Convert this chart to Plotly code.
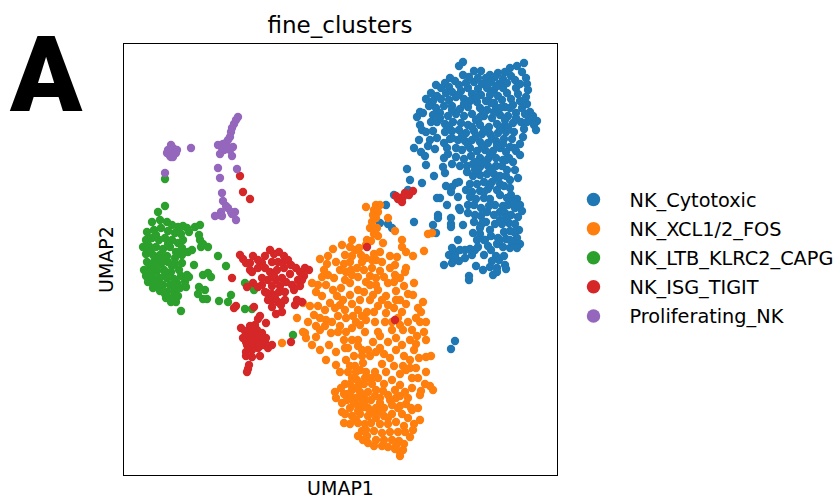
import plotly.graph_objects as go

categories = ["NK_Cytotoxic", "NK_XCL1/2_FOS", "NK_LTB_KLRC2_CAPG", "NK_ISG_TIGIT", "Proliferating_NK"]
colors = ["#1f77b4", "#ff7f0e", "#2ca02c", "#d62728", "#9467bd"]

cytotoxic = [
(463,62),(459,66),(510,68),(517,66),(524,63),(474,71),(481,71),(490,75),(498,73),(505,72),(522,72),(526,78),
(463,75),(450,78),(469,77),(486,78),(495,77),(503,79),(511,76),(445,83),(455,81),(474,82),(482,84),(491,82),(499,84),(507,83),(515,80),(527,84),
(436,85),(441,88),(449,87),(459,85),(468,88),(478,89),(487,88),(494,90),(503,88),(516,88),(520,84),(431,93),(437,96),(446,93),(452,92),(461,91),(472,94),(481,95),(490,95),(498,96),(507,93),(518,94),(528,90),
(426,99),(433,101),(441,99),(449,100),(456,97),(464,99),(470,101),(477,102),(486,101),(494,103),(502,100),(511,99),(520,101),(526,97),(530,112),
(429,106),(436,108),(444,106),(452,106),(460,109),(468,107),(480,108),(487,110),(496,108),(505,107),(513,105),(522,108),(527,104),(533,116),
(420,112),(417,117),(423,113),(433,115),(440,113),(448,116),(456,114),(464,116),(472,114),(476,120),(484,116),(492,118),(500,115),(508,116),(516,113),(525,114),(531,118),(537,121),
(420,125),(422,130),(431,122),(437,122),(445,124),(453,122),(461,123),(468,125),(480,125),(489,127),(497,124),(505,125),(513,123),(521,122),(527,122),(534,125),(536,130),
(419,140),(426,132),(433,131),(430,140),(437,138),(445,132),(452,131),(459,130),(466,133),(474,131),(482,134),(490,134),(498,133),(506,132),(514,132),(524,129),(523,137),
(414,148),(421,152),(425,156),(426,165),(444,143),(450,139),(458,140),(465,141),(472,140),(480,142),(488,143),(496,141),(504,139),(512,139),(520,144),(510,147),
(428,146),(435,149),(447,148),(456,148),(462,150),(470,148),(477,151),(485,150),(493,151),(500,148),(506,152),(516,151),(520,155),
(444,158),(448,154),(456,157),(464,159),(471,156),(480,158),(488,159),(496,158),(503,160),(513,162),(515,170),(518,178),(507,170),
(443,167),(445,173),(452,164),(460,166),(467,166),(473,164),(480,167),(488,166),(496,166),(502,166),(509,158),(434,176),(407,169),(410,180),(422,183),
(456,183),(459,182),(452,187),(446,186),(451,192),(458,197),(440,198),(437,198),(447,205),(459,208),(460,210),(438,215),(438,218),(414,222),(433,225),(436,233),(451,218),(451,224),(451,227),(463,225),(458,240),
(467,172),(473,176),(480,175),(487,174),(494,174),(500,176),(470,184),(477,184),(484,182),(492,182),(500,184),(466,190),(472,192),(480,191),(488,189),(497,190),(504,186),(510,180),
(470,197),(476,199),(484,198),(490,199),(495,205),(500,195),(507,198),(511,195),(517,199),(520,205),(522,211),(508,205),(515,208),(503,206),
(468,205),(474,205),(481,208),(487,212),(481,216),(475,215),(468,213),(474,222),(481,225),(486,222),(490,230),(500,212),(494,215),(505,213),(511,215),(518,217),(509,223),(502,224),(495,224),(515,224),(519,230),
(473,233),(480,234),(477,240),(485,240),(491,236),(498,238),(504,232),(510,231),(517,238),(506,239),(513,242),(520,244),(517,248),(510,248),(497,244),(503,247),
(452,248),(449,255),(453,258),(456,252),(460,250),(465,250),(470,249),(475,250),(472,255),(465,258),(459,261),(455,256),(444,265),(452,263),(476,266),(483,270),(484,255),(469,276),(469,280),(491,250),(496,256),(492,261),(499,260),
(505,265),(506,269),(497,268),(493,275),(497,272),(490,267),(484,240),(478,247),(488,246),(504,256),(455,341),(451,349),(394,195),(408,190),(386,205),(380,223),(388,224),(392,228),
(466,83),(478,78),(488,84),(497,86),(476,97),(491,103),(483,112),(500,108),(516,118),(510,108),(472,127),(484,130),(500,129),(508,128),(462,136),(476,136),(492,138),(503,144),(468,145),(482,147),(497,146),(490,155),(476,162),(484,163),(491,170),(475,170),(498,178),(490,186),(484,192),
(506,176),(510,188),(513,202),(506,218),(514,232),(500,220),(489,206),(483,222),(480,228),(510,240),(500,240),(452,110),(440,118),(452,138),(458,95),(464,104),(480,117),(494,112),(505,120),(449,126),(514,148),(506,160)
]

xcl = [
(366,207),(376,205),(380,205),(374,210),(373,215),(372,222),(377,228),(388,218),(395,231),(402,240),(402,247),(395,265),(406,252),(413,256),(424,251),(428,234),(432,233),
(352,240),(342,245),(350,247),(355,250),(359,248),(333,249),(320,259),(367,240),(378,236),(383,243),(371,241),(366,245),(380,252),(390,256),(397,257),
(328,256),(327,264),(345,255),(352,256),(361,255),(362,262),(374,254),(376,260),(382,262),(372,268),(380,271),(395,275),(406,268),(384,277),(405,272),(400,278),(390,268),
(324,270),(322,277),(318,285),(312,283),(316,292),(322,296),(328,275),(340,270),(346,272),(352,275),(345,280),(341,288),(350,283),(358,277),(364,270),(366,282),(370,276),(376,278),(388,283),(396,291),(404,286),(414,283),(408,294),(400,300),
(326,285),(333,290),(337,296),(330,303),(325,310),(318,306),(310,306),(303,303),(314,315),(320,318),(335,308),(343,300),(350,295),(358,290),(364,292),(370,285),(373,295),(378,290),(386,296),(388,305),(378,306),(370,300),
(345,310),(352,304),(358,310),(362,316),(353,316),(346,318),(338,316),(332,322),(340,326),(331,333),(325,326),(360,325),(367,312),(375,322),(386,313),(394,308),(402,312),(413,295),(418,308),(416,318),(421,312),(423,302),(408,322),(400,325),(392,330),(385,322),(378,332),(373,342),(365,332),(352,328),
(316,337),(320,350),(312,345),(305,333),(329,345),(326,360),(336,352),(344,340),(348,348),(358,340),(362,350),(354,356),(346,360),(336,365),(340,372),(350,366),(356,372),(363,363),(370,356),(380,348),(388,342),(396,338),(402,345),(410,340),(417,336),(424,332),(420,322),(426,340),(414,350),(404,356),(396,350),(390,358),(382,364),(375,372),(368,378),(360,384),(352,378),(345,384),
(376,352),(386,372),(394,366),(400,374),(410,360),(419,358),(426,357),(431,356),(406,370),(400,385),(392,380),(384,384),(376,390),(368,392),(360,392),(352,390),(344,394),(341,388),(335,392),(336,398),(342,403),(352,398),(362,400),(371,400),(380,398),(388,395),(396,398),(405,392),(412,378),(418,378),(425,384),(430,386),(433,390),(421,391),(412,388),
(420,395),(408,398),(400,406),(392,405),(384,408),(376,408),(368,408),(358,406),(350,408),(345,414),(352,416),(360,414),(368,416),(376,418),(384,416),(392,414),(402,414),(412,410),(418,408),(420,420),(414,424),(408,418),(344,423),(350,424),(358,423),(365,424),(371,423),(380,424),(388,424),(396,422),(404,426),(413,430),(410,437),(405,432),(398,432),(390,432),(382,433),(374,431),(362,431),
(358,436),(363,440),(367,436),(376,440),(384,440),(392,440),(399,441),(404,444),(388,447),(395,449),(400,452),(403,450),(400,456),(396,446),(382,446),(374,446),(368,443),(411,408),(356,398),(364,384),(372,384),(348,372),(378,378),(342,412),(406,404),(426,372),(416,368),(308,322),(297,318),(282,343),(303,332),(306,338),
(355,366),(360,370),(366,372),(357,380),(365,378),(372,378),(350,384),(356,388),(362,396),(348,394),(354,403),(364,407),(372,412),(380,403),(347,400),(358,411),(366,400),(375,396),(383,391),(356,420),(366,430),(378,412),(388,418),(398,408),(390,400),(400,396),(395,390),
(362,356),(368,350),(358,346),(352,340),(346,332),(356,322),(366,320),(340,305),(334,278),(336,262),(357,268),(366,258),(350,262),(376,285),(396,300),(394,282),(382,300),(392,322),(403,330),(412,330),(406,304),(320,330),(326,320),(338,332),(316,326),(345,348),
(376,218),(378,212),(370,228),(374,234),(403,366),(380,336),(384,354),(410,368),(416,344),(426,322),(398,318),(374,312),(360,300),(372,260),(344,264),(351,270)
]

ltb = [
(165,179),(165,206),(158,212),(152,222),(160,220),(167,222),(172,225),(178,227),(183,226),(187,228),(195,227),(200,225),
(147,232),(154,230),(161,228),(168,231),(175,233),(181,234),(189,232),(146,240),(152,238),(159,240),(165,238),(172,240),(178,243),(183,240),(199,235),(200,240),(203,244),(208,247),(201,247),(192,250),
(143,247),(149,246),(156,247),(163,249),(170,247),(176,252),(182,248),(188,252),(146,254),(153,255),(160,255),(167,256),(175,258),(182,255),
(147,262),(154,262),(161,264),(168,262),(175,264),(182,263),(144,270),(150,268),(157,271),(164,270),(171,272),(179,270),(194,265),(146,276),(153,277),(160,278),(167,278),(174,279),(181,276),(187,275),
(148,282),(155,283),(163,285),(170,285),(177,283),(185,282),(189,277),(153,288),(160,291),(167,292),(174,291),(180,288),(186,287),(166,298),(172,298),(178,296),(165,294),(171,302),(176,302),(181,311),
(203,275),(208,273),(211,277),(199,287),(205,290),(198,294),(203,299),(207,299),(219,301),(228,302),(231,295),(245,309),(245,283),(254,290),(252,309),(218,256),(226,266),(293,335),
(150,250),(158,258),(150,272),(158,284),(165,275),(172,266),(168,244),(156,235),(176,288),(148,240),(163,258),(155,266)
]

isg = [
(240,255),(243,259),(246,263),(250,263),(253,256),(258,260),(262,263),(265,256),(270,250),(274,254),(279,252),(284,256),(288,260),(291,265),(296,268),(300,272),(305,268),(309,270),(298,280),(302,280),(304,276),
(250,270),(252,272),(258,268),(265,268),(272,262),(278,262),(270,272),(277,270),(284,268),(290,274),(282,278),(276,280),(268,280),(262,278),(272,286),(280,286),(286,282),(292,285),(262,285),(265,292),(272,294),(279,292),(285,292),(294,290),(300,286),(302,302),(297,300),(295,305),(272,300),(278,302),(285,300),(272,307),(276,314),(282,312),(281,305),
(232,278),(247,287),(253,283),(258,287),(236,306),(234,308),(254,307),(260,316),(258,319),(266,323),(241,328),(291,342),(272,345),(367,247),(395,320),(240,176),(243,192),(250,199),
(250,326),(255,325),(245,331),(250,333),(257,330),(248,338),(255,337),(262,333),(243,338),(247,345),(253,344),(260,340),(266,338),(264,345),(268,348),(246,352),(252,350),(258,348),(246,356),(252,357),(260,356),(249,365),(248,369),(247,372),(265,342),
(413,191),(405,193),(403,197),(400,198),(402,202),(398,199),(409,195),(396,196),
(255,340),(250,342),(258,335),(252,328),(246,342),(260,346),(267,293),(275,298),(268,300),(283,263),(274,276)
]

prolif = [
(238,117),(236,120),(234,124),(232,128),(231,132),(230,137),(228,140),(226,143),(223,144),(218,145),(222,148),(226,148),(230,148),(233,147),(224,150),(230,150),(220,154),(232,156),(218,168),(237,169),(220,178),
(222,193),(223,201),(226,206),(228,208),(231,212),(235,212),(232,214),(221,212),(220,215),(215,216),(236,220),(222,216),
(171,145),(168,150),(173,148),(177,150),(171,153),(176,153),(173,157),(170,156),(167,153),(171,157),(191,148),(165,173)
]

series = [cytotoxic, xcl, ltb, isg, prolif]
fig = go.Figure()
for name, color, pts in zip(categories, colors, series):
    fig.add_trace(go.Scatter(x=[p[0] for p in pts], y=[p[1] for p in pts], mode="markers", showlegend=False,
                             marker=dict(color=color, size=8.4, line=dict(width=0)), hoverinfo="skip"))
for name, color in zip(categories, colors):
    fig.add_trace(go.Scatter(x=[None], y=[None], mode="markers", name=name, legendgroup=name,
                             marker=dict(color=color, size=13.5, line=dict(width=0))))

axis = dict(showgrid=False, zeroline=False, showticklabels=False, ticks="", showline=True, linecolor="black",
            linewidth=1.3, mirror=True)
fig.update_layout(
    width=850, height=510, autosize=False, plot_bgcolor="white", paper_bgcolor="white",
    margin=dict(l=124, r=293, t=44, b=35),
    font=dict(family="DejaVu Sans", color="black"),
    title=dict(text="fine_clusters", x=340/850, xanchor="center", y=1-25/510, yanchor="middle",
               font=dict(size=23, family="DejaVu Sans", color="black")),
    xaxis=dict(axis, range=[124, 557], title=dict(text="UMAP1", standoff=6, font=dict(size=19))),
    yaxis=dict(axis, range=[475, 44], title=dict(text="UMAP2", standoff=4, font=dict(size=19))),
    legend=dict(x=(557.5-124)/433, xanchor="left", y=0.5+1.5/431, yanchor="middle", itemwidth=62, tracegroupgap=1,
                font=dict(size=19.3, family="DejaVu Sans"), bgcolor="rgba(0,0,0,0)", itemclick=False),
    annotations=[dict(text="A", xref="paper", yref="paper", x=(46-124)/433, y=(475-75)/431, xanchor="center", yanchor="middle",
                      showarrow=False, font=dict(size=106, family="Roboto", color="black", weight=900))],
)
fig.write_html("out.html", config=dict(displayModeBar=False),
               post_script="document.body.style.margin='0';document.documentElement.style.overflow='hidden';")
